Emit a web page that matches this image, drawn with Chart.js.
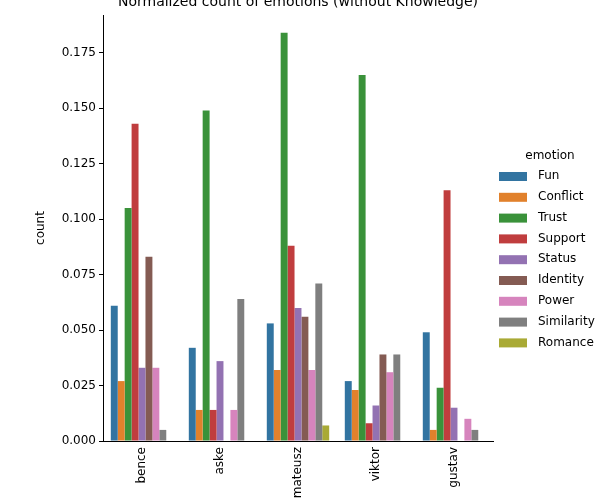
<!DOCTYPE html>
<html><head>
<script src="https://cdn.jsdelivr.net/npm/chart.js@4"></script>
<style>body{margin:0;background:#fff}#wrap{width:615px;height:500px}</style>
</head><body>
<div id="wrap"><canvas id="c" width="615" height="500"></canvas></div>
<script>
const people = ['bence', 'aske', 'mateusz', 'viktor', 'gustav'];
const emotions = ['Fun', 'Conflict', 'Trust', 'Support', 'Status', 'Identity', 'Power', 'Similarity', 'Romance'];
const fun        = [0.061, 0.042, 0.053, 0.027, 0.049];
const conflict   = [0.027, 0.014, 0.032, 0.023, 0.005];
const trust      = [0.105, 0.149, 0.184, 0.165, 0.024];
const support    = [0.143, 0.014, 0.088, 0.008, 0.113];
const status     = [0.033, 0.036, 0.060, 0.016, 0.015];
const identity   = [0.083, 0, 0.056, 0.039, 0];
const power      = [0.033, 0.014, 0.032, 0.031, 0.010];
const similarity = [0.005, 0.064, 0.071, 0.039, 0.005];
const romance    = [0, 0, 0.007, 0, 0];
const yTicks = [0, 0.025, 0.05, 0.075, 0.1, 0.125, 0.15, 0.175];

const series = [fun, conflict, trust, support, status, identity, power, similarity, romance];
const colors = ['#3274a1', '#e1812c', '#3a923a', '#c03d3e', '#9372b2', '#845b53', '#d684bd', '#7f7f7f', '#a9aa35'];
const FONT = 'DejaVu Sans';

const extras = {
  id: 'extras',
  afterDraw(chart) {
    const ctx = chart.ctx, a = chart.chartArea;
    ctx.save();
    ctx.fillStyle = '#000';
    ctx.font = '14px ' + FONT;
    ctx.textAlign = 'center';
    ctx.textBaseline = 'middle';
    ctx.fillText('Normalized count of emotions (without Knowledge)', (a.left + a.right) / 2, 2);
    // legend
    ctx.font = '12px ' + FONT;
    ctx.fillText('emotion', 550, 156);
    ctx.textAlign = 'left';
    chart.data.datasets.forEach((ds, i) => {
      const y = 176 + i * 20.8;
      ctx.fillStyle = ds.backgroundColor;
      ctx.fillRect(499, y - 4, 28, 9);
      ctx.fillStyle = '#000';
      ctx.fillText(ds.label, 538, y);
    });
    ctx.restore();
  }
};

new Chart(document.getElementById('c'), {
  type: 'bar',
  data: {
    labels: people,
    datasets: emotions.map((e, i) => ({
      label: e, data: series[i], backgroundColor: colors[i],
      categoryPercentage: 0.8, barPercentage: 1
    }))
  },
  options: {
    responsive: false,
    animation: false,
    layout: { padding: { left: 30, right: 122, top: 15, bottom: 0 } },
    plugins: { legend: { display: false }, tooltip: { enabled: false } },
    scales: {
      x: {
        grid: { display: false, drawTicks: true, tickLength: 4, tickColor: '#000' },
        border: { color: '#000' },
        ticks: { color: '#000', font: { family: FONT, size: 12 }, minRotation: 90, maxRotation: 90, padding: 2 },
        afterFit(s) { s.height = 59; }
      },
      y: {
        min: 0, max: 0.192,
        grid: { drawOnChartArea: false, tickLength: 4, tickColor: '#000' },
        border: { color: '#000' },
        title: { display: true, text: 'count', color: '#000', font: { family: FONT, size: 12 } },
        afterBuildTicks(s) { s.ticks = yTicks.map(v => ({ value: v })); },
        ticks: { color: '#000', font: { family: FONT, size: 12 }, callback: v => v.toFixed(3) },
        afterFit(s) { s.width = 73; }
      }
    }
  },
  plugins: [extras]
});
</script>
</body></html>
